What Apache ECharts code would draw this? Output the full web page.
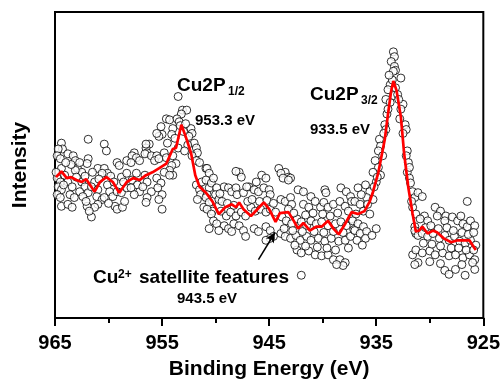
<!DOCTYPE html>
<html><head><meta charset="utf-8">
<script src="https://cdn.jsdelivr.net/npm/echarts@6/dist/echarts.min.js"></script>
<style>html,body{margin:0;padding:0;background:#fff}#c{width:503px;height:385px}</style>
</head><body><div id="c"></div><script>
// Fitted curve (binding energy in eV, intensity in arbitrary units)
const lineEnergy = [964.9,964.4,963.9,963.5,963.0,962.5,962.1,961.3,960.8,960.2,959.6,959.0,958.3,957.7,957.1,956.5,955.9,955.3,954.6,954.0,953.7,953.2,952.8,952.3,951.9,951.5,950.9,950.3,949.7,949.1,948.5,948.1,947.8,947.4,946.7,946.1,945.5,945.0,944.4,944.0,943.2,942.7,942.3,941.8,941.2,940.6,940.1,939.5,939.0,938.5,937.9,937.3,936.7,936.1,935.6,935.3,934.8,934.5,934.2,933.9,933.6,933.4,933.1,932.7,932.4,932.0,931.6,931.3,931.0,930.7,930.2,929.7,929.3,928.7,928.0,927.4,926.8,926.3,926.0,925.7];
const lineIntensity = [145,151,144,145,142,140,143,130,140,145,140,129,140,144,142,147,150,154,159,174,175,199,187,170,147,135,129,120,107,114,117,114,119,112,105,112,119,112,99,108,109,100,92,98,90,94,94,100,92,86,97,109,107,110,120,130,150,167,184,210,234,244,234,207,170,134,107,89,90,94,87,90,88,82,78,80,80,80,75,70];

// Measured points [energy, intensity], read region by region
const pointsHigh = [[961.9,184],[960.4,179],[960.2,172],[964.4,180],[964.3,174],[964.7,174],[964.8,167],[964.5,164],[963.8,169],[963.3,167],[963.1,162],[961.9,164],[962.0,159],[959.2,160],[959.0,157],[958.3,162],[961.0,154],[960.4,154],[960.1,149],[960.6,149],[962.9,154],[962.5,150],[963.1,152],[964.4,154],[964.1,147],[958.8,145],[958.3,149],[964.8,144],[964.5,140],[964.7,135],[964.4,132],[964.8,127],[964.5,124],[964.4,115],[963.8,140],[963.4,135],[963.6,127],[963.8,117],[963.4,114],[962.5,140],[962.2,135],[962.7,130],[961.9,129],[962.4,125],[961.3,140],[961.6,135],[961.0,132],[961.1,125],[960.6,122],[961.0,117],[961.3,114],[961.6,104],[962.0,115],[961.8,110],[960.1,137],[959.9,130],[959.6,125],[960.4,124],[959.4,115],[959.2,112],[958.7,114],[958.5,120],[959.2,130],[958.8,129],[958.3,134],[963.0,145],[962.2,146],[961.5,150],[960.9,143],[959.8,146],[959.5,140],[963.5,158],[962.7,160],[964.0,160],[958.6,140],[963.2,124],[962.1,120],[960.0,118],[964.9,150],[964.2,137]];
const pointsPeak1 = [[953.5,228],[953.1,214],[952.7,214],[953.2,210],[954.6,205],[954.3,204],[953.6,205],[953.4,202],[955.1,197],[955.0,189],[955.3,187],[954.0,195],[954.1,189],[952.3,195],[952.2,190],[952.5,187],[956.2,179],[956.5,175],[956.4,170],[956.6,169],[956.0,167],[957.6,170],[957.8,167],[957.4,165],[957.1,162],[957.9,160],[955.5,167],[955.7,162],[955.3,164],[954.8,170],[954.6,165],[954.0,167],[953.7,159],[954.1,157],[954.3,152],[954.0,147],[952.0,180],[951.8,175],[951.7,170],[952.2,167],[951.8,162],[957.4,149],[957.8,142],[957.3,137],[957.9,134],[957.1,130],[957.6,127],[956.6,147],[956.4,140],[956.8,135],[956.0,130],[956.4,124],[956.5,119],[955.5,144],[955.1,139],[955.4,134],[955.0,127],[955.3,122],[955.0,112],[954.8,150],[954.3,147],[951.8,137],[951.5,132],[951.4,127],[951.7,122],[955.5,190],[956.5,179],[951.5,160],[950.9,154],[951.3,140],[950.6,134],[950.8,127],[950.3,120],[951.1,114],[950.3,110],[953.3,198],[953.0,192],[952.8,200],[953.8,185],[952.6,178],[954.5,180],[953.5,175],[952.9,172]];
const pointsSatellite = [[950.8,154],[950.6,149],[950.9,142],[950.4,139],[950.2,144],[947.8,150],[947.6,145],[945.7,147],[945.3,144],[946.2,140],[949.2,135],[948.8,134],[948.5,130],[948.1,134],[948.0,127],[947.4,129],[946.9,135],[946.4,132],[946.0,130],[945.5,134],[945.0,132],[944.9,127],[949.9,134],[950.0,127],[949.7,122],[950.9,124],[950.6,119],[950.8,112],[950.4,107],[950.2,100],[949.5,110],[949.0,105],[948.6,109],[948.1,105],[947.6,109],[947.2,105],[946.7,114],[946.3,110],[945.8,112],[945.3,109],[944.9,112],[944.4,109],[949.9,97],[949.2,95],[948.8,92],[948.3,97],[947.8,95],[947.4,90],[946.4,92],[946.0,89],[945.3,94],[944.9,90],[944.6,84],[944.9,82],[947.2,84],[945.3,80],[944.1,154],[943.5,150],[943.2,145],[943.0,144],[948.1,151],[950.6,92],[949.7,90],[948.5,89],[949.4,120],[948.9,118],[948.3,116],[947.0,120],[946.6,122],[945.9,120],[945.2,121],[944.6,118],[949.6,128],[947.1,135]];
const pointsValley = [[943.9,149],[943.7,144],[943.2,142],[942.3,132],[941.8,130],[941.1,125],[939.8,132],[939.7,129],[938.3,134],[937.8,130],[937.4,125],[937.3,120],[943.9,122],[943.5,120],[943.0,124],[942.9,117],[943.2,112],[941.8,117],[941.3,114],[940.7,120],[940.2,114],[939.9,119],[939.5,114],[939.0,117],[938.4,120],[937.9,115],[943.8,104],[943.4,100],[942.9,97],[942.4,102],[942.0,99],[941.5,95],[941.1,100],[940.6,97],[940.1,99],[939.5,95],[938.8,97],[938.3,99],[937.8,95],[937.3,102],[943.9,87],[943.5,84],[943.0,82],[942.5,85],[942.1,80],[941.5,84],[941.1,80],[940.4,82],[939.8,79],[939.2,82],[938.5,79],[937.9,80],[937.4,84],[942.4,70],[942.0,67],[941.3,69],[940.7,65],[940.1,64],[939.5,65],[939.0,60],[938.4,60],[937.9,57],[938.1,54],[938.7,55],[942.0,44],[942.7,108],[941.6,106],[940.9,108],[940.0,107],[939.3,105],[938.6,108],[937.6,110],[943.6,92],[942.8,90],[941.9,89],[940.8,89],[939.9,88],[939.0,89],[938.1,88],[937.1,91],[942.6,75],[941.6,74],[940.5,73],[939.6,72],[938.8,70],[937.6,72]];
const pointsPeak2 = [[933.4,274],[933.3,269],[933.6,264],[933.3,259],[933.2,255],[933.4,254],[932.7,247],[933.7,240],[933.9,235],[933.2,237],[934.1,225],[933.7,222],[933.4,229],[932.5,220],[932.7,215],[934.2,199],[934.1,194],[932.3,199],[932.2,194],[932.5,190],[934.7,184],[934.6,177],[934.8,172],[934.4,167],[932.1,172],[932.2,167],[935.1,162],[934.8,155],[935.3,150],[934.6,147],[932.1,150],[931.9,144],[931.8,139],[936.7,134],[936.0,137],[935.6,130],[935.9,124],[936.4,127],[937.0,120],[936.5,117],[935.8,117],[935.3,122],[936.2,110],[936.9,107],[935.6,107],[931.6,130],[931.4,124],[931.6,114],[931.3,107],[937.2,100],[936.7,97],[936.2,94],[937.0,90],[936.5,87],[935.9,89],[931.4,94],[931.3,87],[931.6,65],[936.8,80],[936.0,82],[935.4,85],[935.0,92],[936.3,75],[934.0,210],[933.9,215],[933.0,230],[932.9,225],[933.5,245],[933.8,250],[932.8,205],[934.3,190],[935.0,140],[934.9,145],[935.2,135],[932.0,160],[931.9,155],[931.7,120]];
const pointsTail = [[931.1,129],[930.7,125],[926.5,120],[929.5,114],[929.0,110],[929.3,105],[928.5,105],[928.6,100],[930.5,105],[930.2,100],[930.9,102],[927.9,104],[927.4,100],[927.1,105],[926.9,97],[926.5,94],[926.2,100],[925.8,95],[931.4,90],[931.1,85],[930.7,87],[930.2,84],[929.7,87],[929.1,82],[928.6,85],[928.2,80],[927.7,84],[927.2,79],[926.7,77],[926.2,80],[925.7,75],[931.3,70],[930.7,67],[930.0,69],[929.5,65],[928.8,67],[928.2,64],[927.6,65],[926.9,62],[926.3,65],[925.8,60],[931.1,57],[928.6,49],[928.2,45],[927.6,50],[926.7,44],[925.8,50],[931.4,55],[930.4,93],[929.9,95],[929.2,92],[928.4,93],[927.8,90],[927.0,88],[926.4,86],[925.9,88],[930.6,77],[929.8,76],[929.0,74],[928.0,72],[927.3,72],[926.6,70],[925.9,70],[930.0,58],[929.0,56],[927.0,55],[926.0,57]];

const majorTicks = [925,935,945,955,965];
const minorTicks = [930,940,950,960];
const arrowFrom = [946.0,60];
const arrowTo = [944.45,88];

const FONT = '"Liberation Sans", Arial, sans-serif';
const allPoints = [].concat(pointsHigh, pointsPeak1, pointsSatellite, pointsValley, pointsPeak2, pointsTail);
const chart = echarts.init(document.getElementById('c'), null, {renderer:'canvas'});

function txt(x, y, text, size){
  return {type:'text', x:x, y:y, z:100, silent:true,
    style:{text:text, fill:'#000', font:'bold '+size+'px '+FONT, textAlign:'left', textVerticalAlign:'middle', align:'left', verticalAlign:'middle'}};
}

chart.setOption({
  animation:false,
  backgroundColor:'#fff',
  grid:{left:55,right:17,top:12,bottom:58,show:true,borderColor:'#000',borderWidth:2,backgroundColor:'transparent'},
  xAxis:[{
    type:'value', min:925, max:965, inverse:true,
    name:'Binding Energy (eV)', nameLocation:'middle', nameGap:41,
    nameTextStyle:{fontFamily:FONT, fontWeight:'bold', fontSize:21, color:'#000'},
    axisLine:{show:true, lineStyle:{color:'#000', width:2}},
    axisTick:{show:true, inside:false, length:8, lineStyle:{color:'#000', width:2}, customValues:majorTicks},
    axisLabel:{show:true, customValues:majorTicks, margin:15, fontFamily:FONT, fontWeight:'bold', fontSize:20, color:'#000'},
    splitLine:{show:false}
  },{
    type:'value', min:925, max:965, inverse:true, position:'bottom',
    axisLine:{show:false},
    axisTick:{show:true, inside:false, length:5, lineStyle:{color:'#000', width:2}, customValues:minorTicks},
    axisLabel:{show:false, customValues:minorTicks},
    splitLine:{show:false}
  }],
  yAxis:{
    type:'value', min:0, max:315,
    name:'Intensity', nameLocation:'middle', nameGap:24,
    nameTextStyle:{fontFamily:FONT, fontWeight:'bold', fontSize:21, color:'#000'},
    axisLine:{show:true, lineStyle:{color:'#000', width:2}},
    axisTick:{show:false}, axisLabel:{show:false}, splitLine:{show:false}
  },
  series:[{
    type:'scatter', data:allPoints, symbol:'circle', symbolSize:8, silent:true,
    itemStyle:{color:'#fff', borderColor:'#000', borderWidth:1},
    markLine:{silent:true, symbol:['none','arrow'], symbolSize:[7,10], animation:false,
      lineStyle:{color:'#000', width:1.5, type:'solid'}, label:{show:false},
      data:[[{coord:arrowFrom},{coord:arrowTo}]]}
  },{
    type:'line', data:lineEnergy.map((e,i)=>[e,lineIntensity[i]]), showSymbol:false, symbol:'none',
    lineStyle:{color:'#ff0000', width:2.7}, z:3, silent:true
  }],
  graphic:[
    txt(177,86,'Cu2P',19), txt(228,92,'1/2',12), txt(195,121,'953.3 eV',15),
    txt(310,95,'Cu2P',19), txt(361,101,'3/2',12), txt(310,130,'933.5 eV',15),
    txt(93,278,'Cu',19), txt(118,275,'2+',12), txt(139,278,'satellite features',19),
    txt(177,299,'943.5 eV',15)
  ]
});
</script></body></html>
